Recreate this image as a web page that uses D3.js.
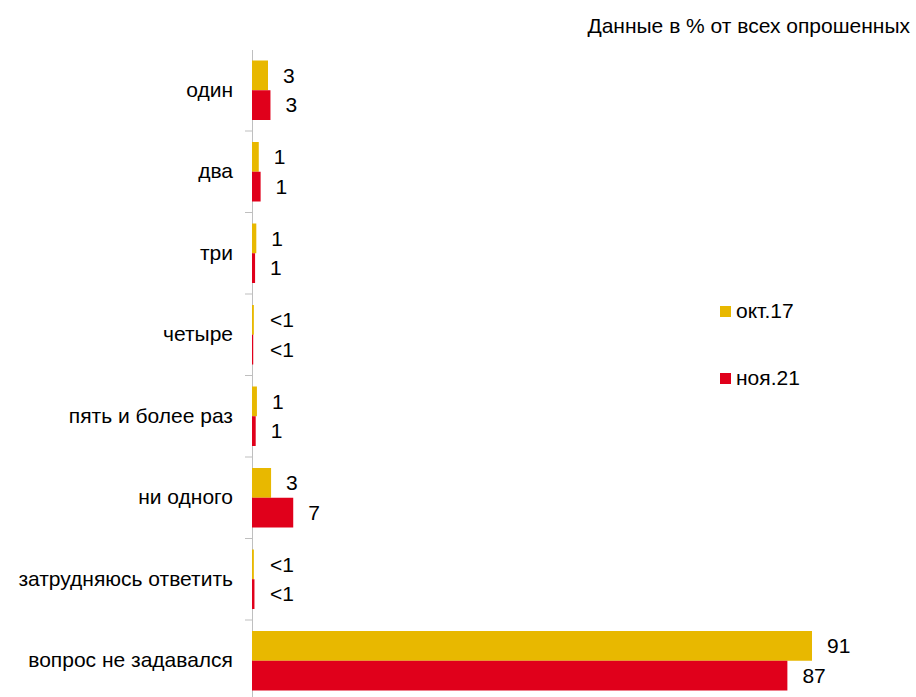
<!DOCTYPE html>
<html>
<head>
<meta charset="utf-8">
<script src="https://cdn.jsdelivr.net/npm/d3@7"></script>
<style>
  body { margin: 0; background: #fff; }
  text { font-family: Arial, "Liberation Sans", sans-serif; fill: #000; }
</style>
</head>
<body>
<svg width="916" height="697"></svg>
<script>
// категории и значения (в %)
var categories = ["один", "два", "три", "четыре", "пять и более раз", "ни одного", "затрудняюсь ответить", "вопрос не задавался"];
var seriesNames = ["окт.17", "ноя.21"];
var oct17 = [2.6, 1.1, 0.7, 0.3, 0.8, 3.1, 0.3, 91];
var nov21 = [3.0, 1.4, 0.5, 0.2, 0.6, 6.7, 0.4, 87];
var labelsOct = ["3", "1", "1", "<1", "1", "3", "<1", "91"];
var labelsNov = ["3", "1", "1", "<1", "1", "7", "<1", "87"];
var colors = ["#e8b800", "#e0001b"];

var svg = d3.select("svg"),
    margin = {top: 49.5, left: 252},
    height = 652;

var g = svg.append("g").attr("transform", "translate(" + margin.left + "," + margin.top + ")");

var y = d3.scaleBand().domain(categories).range([0, height]).paddingInner(0).paddingOuter(0);
var x = d3.scaleLinear().domain([0, 91]).range([0, 560]);
var y1 = d3.scaleBand().domain([0, 1]).range([11, y.bandwidth() - 11]);

// ось категорий (сначала, чтобы столбики были поверх)
var axis = g.append("g")
  .call(d3.axisLeft(y).tickSize(0).tickPadding(19).tickValues(categories));
axis.select(".domain").attr("stroke", "#bfbfbf");
axis.selectAll("text").attr("font-size", 21).style("font-family", "Arial, 'Liberation Sans', sans-serif");

// разделительные штрихи
g.selectAll(".sep")
  .data(categories.slice(1))
  .enter().append("line")
  .attr("x1", -7).attr("x2", 0)
  .attr("y1", function(d) { return y(d); })
  .attr("y2", function(d) { return y(d); })
  .attr("stroke", "#bfbfbf");

var data = categories.map(function(c, i) {
  return {cat: c, vals: [oct17[i], nov21[i]], labels: [labelsOct[i], labelsNov[i]]};
});

var groups = g.selectAll(".cat")
  .data(data)
  .enter().append("g")
  .attr("transform", function(d) { return "translate(0," + y(d.cat) + ")"; });

groups.selectAll("rect")
  .data(function(d) { return d.vals.map(function(v, k) { return {v: v, k: k}; }); })
  .enter().append("rect")
  .attr("x", 0)
  .attr("y", function(d) { return y1(d.k); })
  .attr("height", y1.bandwidth())
  .attr("width", function(d) { return x(d.v); })
  .attr("fill", function(d) { return colors[d.k]; });

groups.selectAll("text.val")
  .data(function(d) { return d.vals.map(function(v, k) { return {v: v, k: k, l: d.labels[k]}; }); })
  .enter().append("text")
  .attr("class", "val")
  .attr("x", function(d) { return Math.max(x(d.v), 3) + 15; })
  .attr("y", function(d) { return y1(d.k) + y1.bandwidth() / 2; })
  .attr("dy", "0.35em")
  .attr("font-size", 21)
  .text(function(d) { return d.l; });

// легенда
var legend = svg.append("g").selectAll("g")
  .data(seriesNames)
  .enter().append("g")
  .attr("transform", function(d, i) { return "translate(720," + (306 + i * 67) + ")"; });
legend.append("rect").attr("width", 11).attr("height", 11).attr("fill", function(d, i) { return colors[i]; });
legend.append("text").attr("x", 16).attr("y", 5).attr("dy", "0.35em").attr("font-size", 21).text(function(d) { return d; });

// подпись
svg.append("text")
  .attr("x", 910).attr("y", 33)
  .attr("text-anchor", "end")
  .attr("font-size", 21)
  .text("Данные в % от всех опрошенных");
</script>
</body>
</html>
